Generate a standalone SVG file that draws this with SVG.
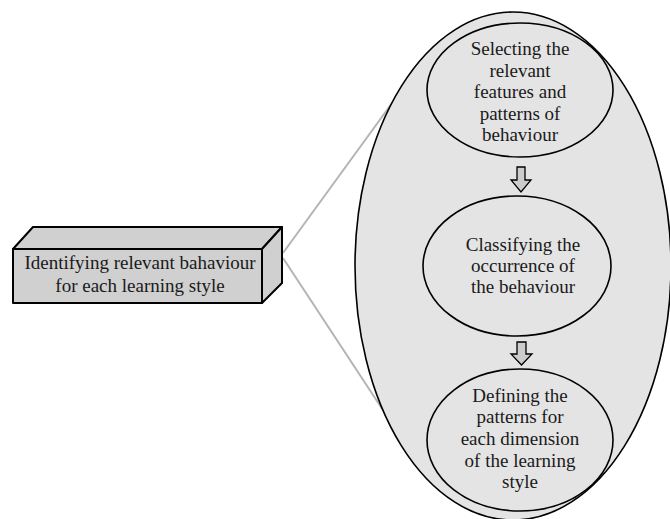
<svg xmlns="http://www.w3.org/2000/svg" width="670" height="519" viewBox="0 0 670 519" font-family="'Liberation Serif', 'Times New Roman', serif">
<style>
text{font-family:'Liberation Serif','Times New Roman',serif;font-size:19px;fill:#1a1a1a;text-anchor:middle}
.box{fill:#d0d0d0;stroke:#000;stroke-width:2;stroke-linejoin:round}
.ell{fill:#e4e4e4;stroke:#000;stroke-width:1.6}
.arr{fill:#cccccc;stroke:#000;stroke-width:1.3;stroke-linejoin:miter}
.zoom{stroke:#b4b4b4;stroke-width:2;fill:none}
</style>
<rect width="670" height="519" fill="#fff"/>
<g id="connectors">
<line class="zoom" x1="283" y1="253" x2="403" y2="88"/>
<line class="zoom" x1="283" y1="258" x2="398" y2="433"/>
</g>
<g id="box">
<polygon class="box" points="13,249 33,227 282,227 262,249"/>
<polygon class="box" points="262,249 282,227 282,283 262,303"/>
<rect class="box" x="13" y="249" width="249" height="54"/>
<text x="140" y="269">Identifying relevant bahaviour</text>
<text x="140" y="292">for each learning style</text>
</g>
<g id="outer">
<ellipse class="ell" cx="513" cy="266" rx="158" ry="254"/>
</g>
<g id="step1">
<ellipse class="ell" cx="520" cy="90" rx="93" ry="67"/>
<text x="520" y="55">Selecting the</text>
<text x="520" y="77">relevant</text>
<text x="520" y="98">features and</text>
<text x="520" y="120">patterns of</text>
<text x="520" y="141">behaviour</text>
</g>
<g id="step2">
<ellipse class="ell" cx="517" cy="266" rx="94" ry="70"/>
<text x="523" y="251">Classifying the</text>
<text x="523" y="272">occurrence of</text>
<text x="523" y="293">the behaviour</text>
</g>
<g id="step3">
<ellipse class="ell" cx="520" cy="440" rx="93" ry="71"/>
<text x="520" y="402">Defining the</text>
<text x="520" y="423">patterns for</text>
<text x="520" y="445">each dimension</text>
<text x="520" y="467">of the learning</text>
<text x="520" y="488">style</text>
</g>
<g id="arrows">
<polygon class="arr" points="517,167 525,167 525,180 531,180 521,192 511,180 517,180"/>
<polygon class="arr" points="517,342 526,342 526,354 532,354 521.5,365 511,354 517,354"/>
</g>
</svg>
